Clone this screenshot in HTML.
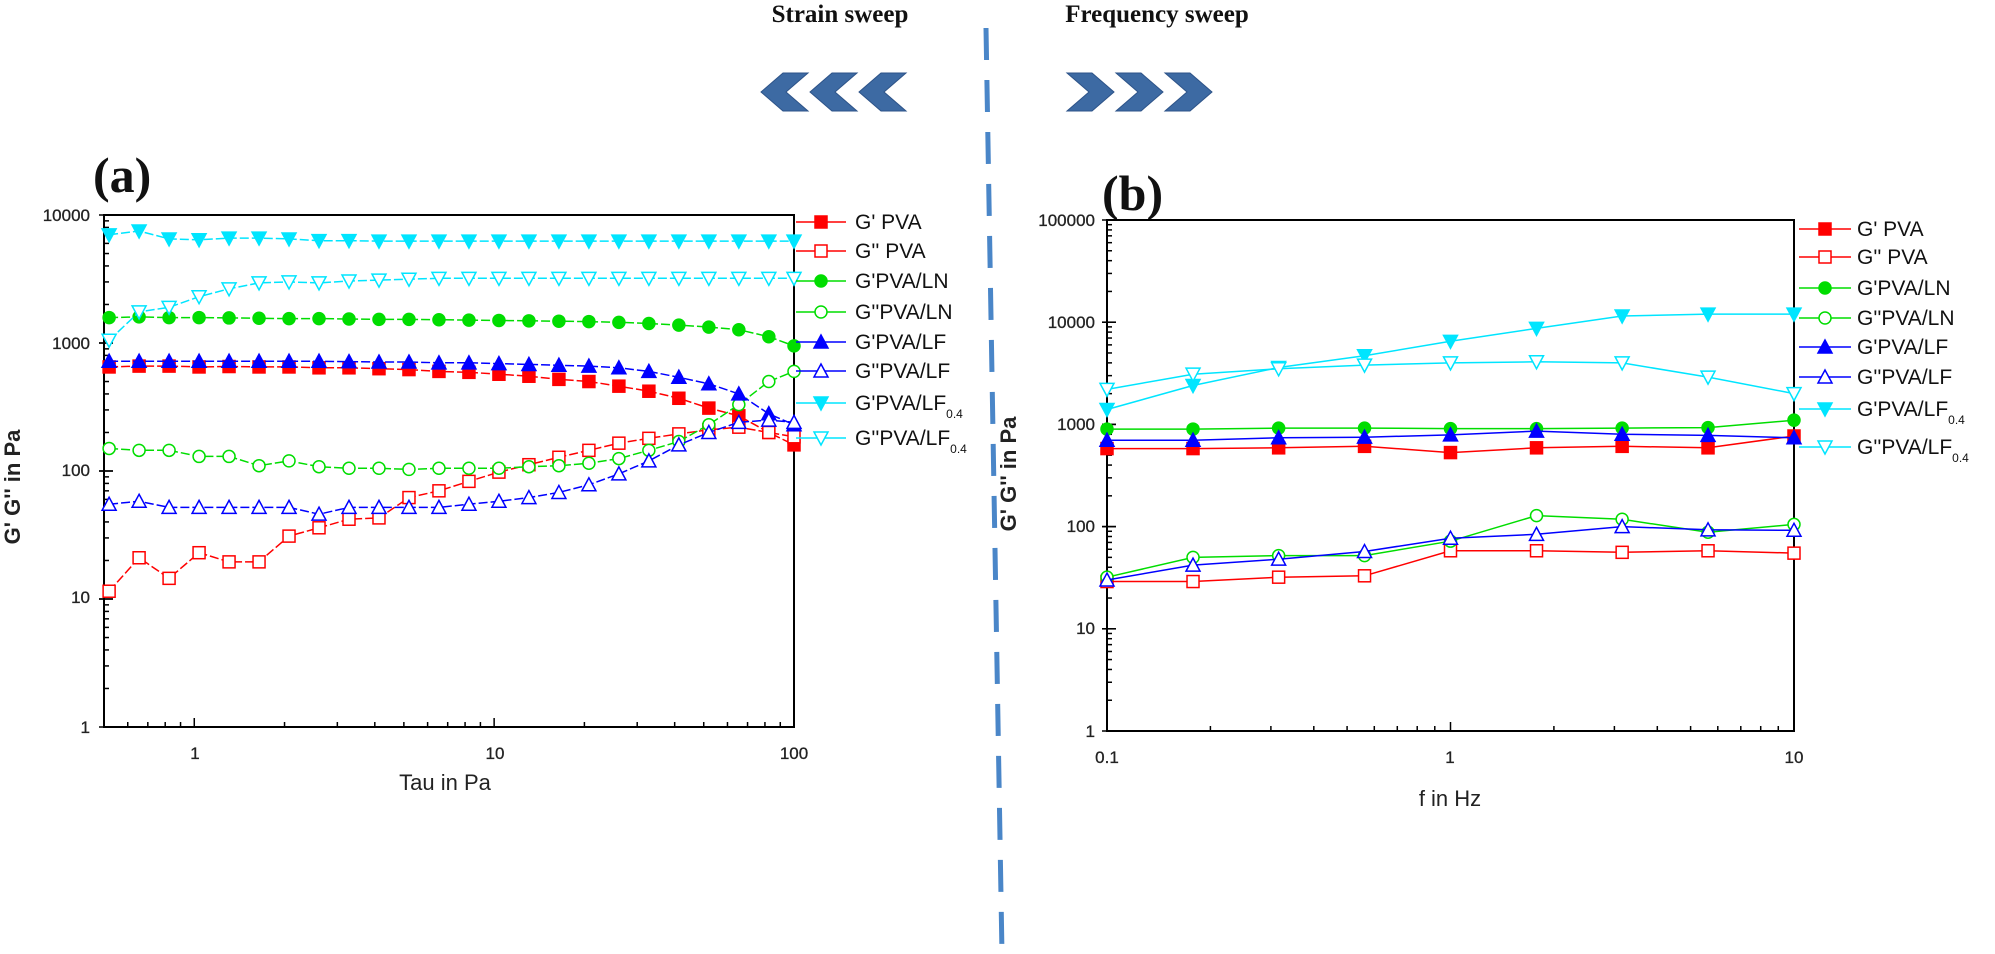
<!DOCTYPE html>
<html><head><meta charset="utf-8">
<style>
html,body{margin:0;padding:0;background:#fff;}
svg{display:block;font-family:"Liberation Sans",Arial,sans-serif;}
.tl{font-size:17px;fill:#222;stroke:#222;stroke-width:0.3;}
.lg{font-size:21px;fill:#111;}
.ax{font-size:22px;fill:#222;}
.ttl{font-family:"Liberation Serif",serif;font-weight:bold;fill:#111;}
</style></head><body>
<svg id="s" width="1995" height="954" viewBox="0 0 1995 954" xmlns="http://www.w3.org/2000/svg">
<line x1="986" y1="28" x2="1002" y2="954" stroke="#4a86c8" stroke-width="5" stroke-dasharray="32,20"/>
<text class="ttl" x="840" y="22" font-size="25" text-anchor="middle">Strain  sweep</text>
<text class="ttl" x="1157" y="22" font-size="25" text-anchor="middle">Frequency  sweep</text>
<g fill="#3d6aa3" stroke="#2d5388" stroke-width="1">
<polygon points="761,92 783,73 808,73 786,92 808,111 783,111"/>
<polygon points="810,92 832,73 857,73 835,92 857,111 832,111"/>
<polygon points="859,92 881,73 906,73 884,92 906,111 881,111"/>
<polygon points="1212,92 1190,73 1165,73 1187,92 1165,111 1190,111"/>
<polygon points="1163,92 1141,73 1116,73 1138,92 1116,111 1141,111"/>
<polygon points="1114,92 1092,73 1067,73 1089,92 1067,111 1092,111"/>
</g>
<text class="ttl" x="93" y="192" font-size="50">(a)</text>
<text class="ttl" x="1102" y="210" font-size="50">(b)</text>
<text class="ax" x="445" y="790" text-anchor="middle">Tau in Pa</text>
<text class="ax" x="1450" y="806" text-anchor="middle">f in Hz</text>
<text class="ax" font-weight="bold" transform="translate(20,487) rotate(-90)" text-anchor="middle">G' G'' in Pa</text>
<text class="ax" font-weight="bold" transform="translate(1016,474) rotate(-90)" text-anchor="middle">G' G'' in Pa</text>
<g class="tl" text-anchor="end">
<text x="90" y="221">10000</text><text x="90" y="349">1000</text><text x="90" y="476">100</text><text x="90" y="603">10</text><text x="90" y="733">1</text>
</g>
<g class="tl" text-anchor="middle">
<text x="195" y="759">1</text><text x="495" y="759">10</text><text x="794" y="759">100</text>
</g>
<g class="tl" text-anchor="end">
<text x="1095" y="226">100000</text><text x="1095" y="328">10000</text><text x="1095" y="430">1000</text><text x="1095" y="532">100</text><text x="1095" y="634">10</text><text x="1095" y="737">1</text>
</g>
<g class="tl" text-anchor="middle">
<text x="1107" y="763">0.1</text><text x="1450" y="763">1</text><text x="1794" y="763">10</text>
</g>
<g class="lg">
<text x="855" y="229">G' PVA</text>
<text x="855" y="258">G'' PVA</text>
<text x="855" y="288">G'PVA/LN</text>
<text x="855" y="319">G''PVA/LN</text>
<text x="855" y="349">G'PVA/LF</text>
<text x="855" y="378">G''PVA/LF</text>
<text x="855" y="410">G'PVA/LF<tspan font-size="12" dy="8">0.4</tspan></text>
<text x="855" y="445">G''PVA/LF<tspan font-size="12" dy="8">0.4</tspan></text>
<text x="1857" y="236">G' PVA</text>
<text x="1857" y="264">G'' PVA</text>
<text x="1857" y="295">G'PVA/LN</text>
<text x="1857" y="325">G''PVA/LN</text>
<text x="1857" y="354">G'PVA/LF</text>
<text x="1857" y="384">G''PVA/LF</text>
<text x="1857" y="416">G'PVA/LF<tspan font-size="12" dy="8">0.4</tspan></text>
<text x="1857" y="454">G''PVA/LF<tspan font-size="12" dy="8">0.4</tspan></text>
</g>
<g id="dyn"></g>
</svg>
<script>
var NS="http://www.w3.org/2000/svg",G=document.getElementById("dyn");
function el(t,a){var e=document.createElementNS(NS,t);for(var k in a)e.setAttribute(k,a[k]);G.appendChild(e);return e;}
var C={r:"#ff0000",g:"#00dd00",b:"#0000ff",c:"#00e5ff"};
function marker(x,y,type,col,fill){
 var f=fill?col:"#fff",s=6,a={fill:f,stroke:col,"stroke-width":1.5};
 if(type=="sq"){a.x=x-s;a.y=y-s;a.width=2*s;a.height=2*s;el("rect",a);}
 else if(type=="ci"){a.cx=x;a.cy=y;a.r=s;el("circle",a);}
 else if(type=="tu"){a.points=(x)+","+(y-s-1)+" "+(x+s+1)+","+(y+s)+" "+(x-s-1)+","+(y+s);el("polygon",a);}
 else {a.points=(x)+","+(y+s+1)+" "+(x+s+1)+","+(y-s)+" "+(x-s-1)+","+(y-s);el("polygon",a);}
}
function panel(P){
 el("rect",{x:P.l,y:P.t,width:P.r-P.l,height:P.b-P.t,fill:"none",stroke:"#000","stroke-width":2});
 for(var d=0;d<P.yd;d++){for(var m=1;m<=10;m++){var v=d+Math.log10(m);var y=P.b-(v/P.yd)*(P.b-P.t);
  el("line",{x1:P.l,y1:y,x2:P.l+(m==1||m==10?9:5),y2:y,stroke:"#000","stroke-width":1.5});
  el("line",{x1:P.l-(m==1||m==10?5:0),y1:y,x2:P.l,y2:y,stroke:"#000","stroke-width":1.5});}}
 for(var e=P.x0e;e<P.x1e;e++)for(var m=1;m<10;m++){var lv=e+Math.log10(m);if(lv<P.lx0)continue;var x=P.l+(lv-P.lx0)/(P.lx1-P.lx0)*(P.r-P.l);
  el("line",{x1:x,y1:P.b,x2:x,y2:P.b-(m==1?9:5),stroke:"#000","stroke-width":1.5});}
 el("line",{x1:P.r,y1:P.b,x2:P.r,y2:P.b-9,stroke:"#000","stroke-width":1.5});
 function X(v){return P.l+(Math.log10(v)-P.lx0)/(P.lx1-P.lx0)*(P.r-P.l);}
 function Y(v){return P.b-Math.log10(v)/P.yd*(P.b-P.t);}
 P.S.forEach(function(s){var pts=[];for(var i=0;i<s.v.length;i++){var x=P.xs[i];if(x>P.xmax)x=P.xmax;pts.push(X(x).toFixed(1)+","+Y(s.v[i]).toFixed(1));}
  el("polyline",{points:pts.join(" "),fill:"none",stroke:C[s.c],"stroke-width":1.5,"stroke-dasharray":P.dash||"none"});
  for(var i=0;i<s.v.length;i++){if(P.xs[i]>P.xmax)continue;marker(X(P.xs[i]),Y(s.v[i]),s.m,C[s.c],s.f);} });
 P.S.forEach(function(s,i){var y=P.ly[i];el("line",{x1:P.lx,y1:y,x2:P.lx+P.lw,y2:y,stroke:C[s.c],"stroke-width":1.5});marker(P.lx+P.lw/2,y,s.m,C[s.c],s.f);});
}
var xa=[];for(var k=0;k<23;k++)xa.push(0.52*Math.pow(10,0.1*k));xa.push(100);
panel({l:104,r:794,t:215,b:727,yd:4,x0e:-1,x1e:2,lx0:Math.log10(0.5),lx1:2,xmax:100,xs:xa,dash:"9,3",
 lx:796,lw:50,ly:[222,251,281,312,342,371,403,438],
 S:[
 {c:"r",m:"sq",f:1,v:[650,660,660,650,655,650,650,640,640,630,620,600,590,570,550,520,500,460,420,370,310,270,200,160]},
 {c:"r",m:"sq",f:0,v:[11.5,21,14.5,23,19.5,19.5,31,36,42,43,62,70,83,98,112,128,145,165,180,195,210,220,200,185]},
 {c:"g",m:"ci",f:1,v:[1580,1600,1580,1580,1570,1560,1550,1550,1540,1530,1530,1520,1510,1500,1490,1480,1470,1450,1420,1380,1330,1270,1120,950]},
 {c:"g",m:"ci",f:0,v:[150,145,145,130,130,110,120,108,105,105,103,105,105,105,108,110,115,125,145,170,230,330,500,600]},
 {c:"b",m:"tu",f:1,v:[720,720,720,720,720,720,720,720,715,710,710,700,700,690,680,670,660,640,600,540,480,400,280,230]},
 {c:"b",m:"tu",f:0,v:[55,58,52,52,52,52,52,46,52,52,52,52,55,58,62,68,78,95,120,160,200,240,250,240]},
 {c:"c",m:"td",f:1,v:[7000,7500,6500,6400,6600,6600,6500,6300,6300,6250,6250,6250,6250,6250,6250,6250,6250,6250,6250,6250,6250,6250,6250,6250]},
 {c:"c",m:"td",f:0,v:[1050,1750,1900,2300,2650,2950,3000,2950,3050,3100,3150,3200,3200,3200,3200,3200,3200,3200,3200,3200,3200,3200,3200,3200]}
 ]});
var xb=[0.1,0.178,0.316,0.562,1,1.78,3.16,5.62,10];
panel({l:1107,r:1794,t:220,b:731,yd:5,x0e:-1,x1e:1,lx0:-1,lx1:1,xmax:10,xs:xb,
 lx:1799,lw:52,ly:[229,257,288,318,347,377,409,447],
 S:[
 {c:"r",m:"sq",f:1,v:[580,580,590,610,530,590,610,590,770]},
 {c:"r",m:"sq",f:0,v:[29,29,32,33,58,58,56,58,55]},
 {c:"g",m:"ci",f:1,v:[900,900,920,920,910,910,920,930,1100]},
 {c:"g",m:"ci",f:0,v:[32,50,52,52,72,128,118,88,105]},
 {c:"b",m:"tu",f:1,v:[700,700,740,750,790,860,800,780,740]},
 {c:"b",m:"tu",f:0,v:[30,42,48,57,77,84,100,93,92]},
 {c:"c",m:"td",f:1,v:[1400,2400,3600,4700,6500,8700,11500,12000,12000]},
 {c:"c",m:"td",f:0,v:[2200,3100,3500,3800,4000,4100,4000,2900,2000]}
 ]});
</script>
</body></html>
